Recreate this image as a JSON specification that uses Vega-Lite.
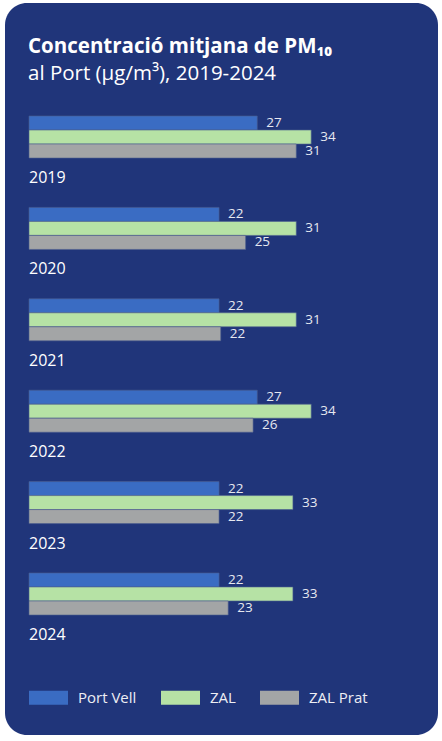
{
  "$schema": "https://vega.github.io/schema/vega-lite/v6.json",
  "autosize": "none",
  "width": 433,
  "height": 732,
  "padding": {"left": 5, "top": 3, "right": 4, "bottom": 6},
  "background": "#ffffff",
  "config": {
    "view": {"fill": "#20357a", "stroke": null, "cornerRadius": 22},
    "font": "Open Sans"
  },
  "title": {
    "text": "Concentració mitjana de PM₁₀",
    "subtitle": "al Port (µg/m³), 2019-2024",
    "anchor": "start",
    "frame": "group",
    "dx": 23,
    "offset": -81,
    "color": "#ffffff",
    "subtitleColor": "#ffffff",
    "fontSize": 20.5,
    "fontWeight": "bold",
    "subtitleFontSize": 20.5,
    "subtitleFontWeight": "normal",
    "subtitlePadding": 6
  },
  "data": {
    "values": [
      {"year": "2019", "station": "Port Vell", "len": 27.5, "label": "27"},
      {"year": "2019", "station": "ZAL", "len": 34.0, "label": "34"},
      {"year": "2019", "station": "ZAL Prat", "len": 32.2, "label": "31"},
      {"year": "2020", "station": "Port Vell", "len": 22.9, "label": "22"},
      {"year": "2020", "station": "ZAL", "len": 32.2, "label": "31"},
      {"year": "2020", "station": "ZAL Prat", "len": 26.1, "label": "25"},
      {"year": "2021", "station": "Port Vell", "len": 22.9, "label": "22"},
      {"year": "2021", "station": "ZAL", "len": 32.2, "label": "31"},
      {"year": "2021", "station": "ZAL Prat", "len": 23.1, "label": "22"},
      {"year": "2022", "station": "Port Vell", "len": 27.5, "label": "27"},
      {"year": "2022", "station": "ZAL", "len": 34.0, "label": "34"},
      {"year": "2022", "station": "ZAL Prat", "len": 27.0, "label": "26"},
      {"year": "2023", "station": "Port Vell", "len": 22.9, "label": "22"},
      {"year": "2023", "station": "ZAL", "len": 31.8, "label": "33"},
      {"year": "2023", "station": "ZAL Prat", "len": 22.9, "label": "22"},
      {"year": "2024", "station": "Port Vell", "len": 22.9, "label": "22"},
      {"year": "2024", "station": "ZAL", "len": 31.8, "label": "33"},
      {"year": "2024", "station": "ZAL Prat", "len": 24.0, "label": "23"}
    ]
  },
  "encoding": {
    "y": {
      "field": "year",
      "type": "nominal",
      "scale": {"range": [113, 612], "paddingInner": 0.54, "paddingOuter": 0},
      "axis": null
    }
  },
  "layer": [
    {
      "mark": {"type": "bar", "stroke": "#4b5e8e", "strokeWidth": 0.6},
      "encoding": {
        "x": {
          "field": "len",
          "type": "quantitative",
          "scale": {"domain": [0, 40], "range": [24, 356]},
          "axis": null
        },
        "yOffset": {"field": "station", "type": "nominal", "scale": {"paddingInner": 0, "paddingOuter": 0}},
        "color": {
          "field": "station",
          "type": "nominal",
          "scale": {
            "domain": ["Port Vell", "ZAL", "ZAL Prat"],
            "range": ["#3a6cc3", "#b6e2a5", "#a3a5a6"]
          },
          "legend": {
            "title": null,
            "orient": "none",
            "legendX": 24,
            "legendY": 675,
            "direction": "horizontal",
            "symbolType": "M-1,-0.36L1,-0.36L1,0.36L-1,0.36Z",
            "symbolSize": 1521,
            "symbolStrokeWidth": 0,
            "labelColor": "#eeeef4",
            "labelFontSize": 15,
            "labelOffset": 10,
            "columnPadding": 24
          }
        }
      }
    },
    {
      "mark": {"type": "text", "align": "left", "baseline": "middle", "dx": 9, "fontSize": 13.5, "color": "#e6e8f0"},
      "encoding": {
        "x": {"field": "len", "type": "quantitative"},
        "yOffset": {"field": "station", "type": "nominal"},
        "text": {"field": "label"}
      }
    },
    {
      "transform": [{"filter": "datum.station === 'Port Vell'"}],
      "mark": {"type": "text", "align": "left", "baseline": "middle", "dy": 41, "fontSize": 16, "color": "#ffffff"},
      "encoding": {
        "x": {"datum": 0},
        "text": {"field": "year"}
      }
    }
  ]
}
